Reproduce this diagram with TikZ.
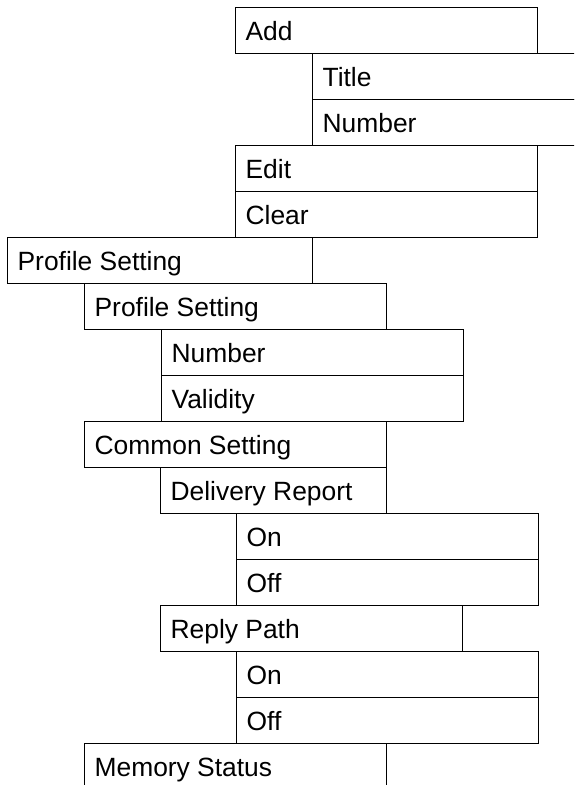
\documentclass[tikz,border=0pt]{standalone}
\usepackage{fontspec}
\setmainfont{Liberation Sans}
\definecolor{MenuLine}{HTML}{000000}
\usepackage{tikz}
\usetikzlibrary{positioning}

\tikzset{
  menubox/.style={draw=MenuLine, line width=0.6pt, anchor=north west,
    minimum width=151pt, minimum height=23pt, inner xsep=5pt, inner ysep=0pt,
    text height=9.5pt, text depth=0pt, align=left,
    font=\fontsize{13.2}{15}\selectfont}
}

\begin{document}
\begin{tikzpicture}
      \clip (0,0) rectangle (287pt,-392.5pt);
      % message templates
      \node[menubox] (add) at (117.5pt,-3.5pt) {\makebox[141pt][l]{Add}};
      \node[menubox] (addTitle) at (156pt,-26.5pt) {\makebox[141pt][l]{Title}};
      \node[menubox] (addNumber) at (156pt,-49.5pt) {\makebox[141pt][l]{Number}};
      \node[menubox] (edit) at (117.5pt,-72.5pt) {\makebox[141pt][l]{Edit}};
      \node[menubox] (clear) at (117.5pt,-95.5pt) {\makebox[141pt][l]{Clear}};
      % profile setting
      \node[menubox, minimum width=152.5pt] (profile) at (3.5pt,-118.5pt) {\makebox[142.5pt][l]{Profile Setting}};
      \node[menubox] (profileSub) at (42pt,-141.5pt) {\makebox[141pt][l]{Profile Setting}};
      \node[menubox] (profNumber) at (80.5pt,-164.5pt) {\makebox[141pt][l]{Number}};
      \node[menubox] (profValidity) at (80.5pt,-187.5pt) {\makebox[141pt][l]{Validity}};
      % common setting
      \node[menubox] (common) at (42pt,-210.5pt) {\makebox[141pt][l]{Common Setting}};
      \node[menubox, minimum width=113pt] (delivery) at (80pt,-233.5pt) {\makebox[103pt][l]{Delivery Report}};
      \node[menubox] (deliveryOn) at (118pt,-256.5pt) {\makebox[141pt][l]{On}};
      \node[menubox] (deliveryOff) at (118pt,-279.5pt) {\makebox[141pt][l]{Off}};
      \node[menubox] (reply) at (80pt,-302.5pt) {\makebox[141pt][l]{Reply Path}};
      \node[menubox] (replyOn) at (118pt,-325.5pt) {\makebox[141pt][l]{On}};
      \node[menubox] (replyOff) at (118pt,-348.5pt) {\makebox[141pt][l]{Off}};
      % memory
      \node[menubox] (memory) at (42pt,-371.5pt) {\makebox[141pt][l]{Memory Status}};
    \end{tikzpicture}
\end{document}
